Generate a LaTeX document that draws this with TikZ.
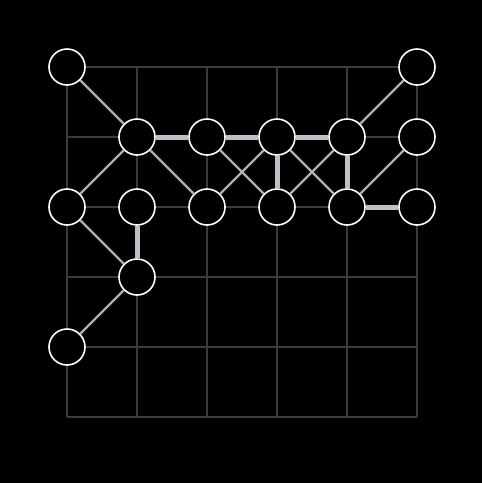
\documentclass[tikz,border=0pt]{standalone}
\definecolor{gridc}{HTML}{3A3A3A}
\definecolor{thinc}{HTML}{B0B0B4}
\definecolor{thickc}{HTML}{C0BEC8}
\begin{document}
\begin{tikzpicture}[x=1pt,y=-1pt,
  vtx/.style={circle,draw=white,fill=black,line width=1.6pt,minimum size=36pt,inner sep=0pt},
  weakedge/.style={color=thinc,line width=2.4pt},
  strongedge/.style={color=thickc,line width=5pt,postaction={draw=thickc,line width=2.5pt}},
  gridline/.style={color=gridc,line width=1.8pt}]
\fill[black] (0,0) rectangle (482,483);
\useasboundingbox (0,0) rectangle (482,483);
\foreach \i in {67,137,207,277,347,417}{
  \draw[gridline] (\i,67) -- (\i,417);
  \draw[gridline] (67,\i) -- (417,\i);
}
\node[vtx] (a1) at (67,67) {};
\node[vtx] (a6) at (417,67) {};
\node[vtx] (b2) at (137,137) {};
\node[vtx] (b3) at (207,137) {};
\node[vtx] (b4) at (277,137) {};
\node[vtx] (b5) at (347,137) {};
\node[vtx] (b6) at (417,137) {};
\node[vtx] (c1) at (67,207) {};
\node[vtx] (c2) at (137,207) {};
\node[vtx] (c3) at (207,207) {};
\node[vtx] (c4) at (277,207) {};
\node[vtx] (c5) at (347,207) {};
\node[vtx] (c6) at (417,207) {};
\node[vtx] (d2) at (137,277) {};
\node[vtx] (e1) at (67,347) {};
\draw[weakedge] (a1) -- (b2);
\draw[weakedge] (a6) -- (b5);
\draw[strongedge] (b2) -- (b3);
\draw[strongedge] (b3) -- (b4);
\draw[strongedge] (b4) -- (b5);
\draw[weakedge] (b2) -- (c1);
\draw[weakedge] (b2) -- (c3);
\draw[weakedge] (b3) -- (c4);
\draw[weakedge] (b4) -- (c3);
\draw[strongedge] (b4) -- (c4);
\draw[weakedge] (b4) -- (c5);
\draw[weakedge] (b5) -- (c4);
\draw[strongedge] (b5) -- (c5);
\draw[weakedge] (b6) -- (c5);
\draw[strongedge] (c5) -- (c6);
\draw[weakedge] (c1) -- (d2);
\draw[strongedge] (c2) -- (d2);
\draw[weakedge] (d2) -- (e1);
\end{tikzpicture}
\end{document}
